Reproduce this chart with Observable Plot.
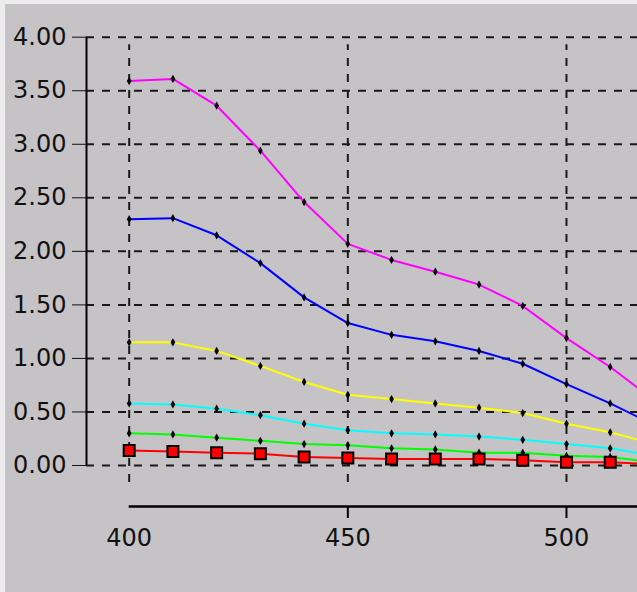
<!DOCTYPE html>
<html>
<head>
<meta charset="utf-8">
<script src="https://cdn.jsdelivr.net/npm/d3@7"></script>
<script src="https://cdn.jsdelivr.net/npm/@observablehq/plot@0.6"></script>
<style>
  html, body { margin: 0; padding: 0; background: #ececec; overflow: hidden; }
  #wrap { position: relative; width: 637px; height: 592px; }
  #panel { position: absolute; left: 5px; top: 4px; width: 632px; height: 588px; background: #c6c3c7; }
  #chart { position: absolute; left: 0; top: 0; }
</style>
</head>
<body>
<div id="wrap"><div id="panel"></div><div id="chart"></div></div>
<script>
// Data (wavelength vs value)
const wavelengths = [400, 410, 420, 430, 440, 450, 460, 470, 480, 490, 500, 510, 520];
const magenta = [3.59, 3.61, 3.36, 2.94, 2.46, 2.07, 1.92, 1.81, 1.69, 1.49, 1.19, 0.92, 0.61];
const blue    = [2.30, 2.31, 2.15, 1.89, 1.57, 1.33, 1.22, 1.16, 1.07, 0.95, 0.76, 0.58, 0.38];
const yellow  = [1.15, 1.15, 1.07, 0.93, 0.78, 0.66, 0.62, 0.58, 0.54, 0.49, 0.39, 0.31, 0.20];
const cyan    = [0.58, 0.57, 0.53, 0.47, 0.39, 0.33, 0.30, 0.29, 0.27, 0.24, 0.20, 0.16, 0.09];
const green   = [0.30, 0.29, 0.26, 0.23, 0.20, 0.19, 0.16, 0.15, 0.12, 0.12, 0.09, 0.08, 0.03];
const red     = [0.14, 0.13, 0.12, 0.11, 0.08, 0.07, 0.06, 0.06, 0.06, 0.05, 0.03, 0.03, 0.01];

const yTicks = [0, 0.5, 1, 1.5, 2, 2.5, 3, 3.5, 4];
const xTicks = [400, 450, 500];
const xTickMarks = [450, 500];

const seriesList = [
  {name: "magenta", values: magenta, color: "#ff00ff"},
  {name: "blue", values: blue, color: "#0000ff"},
  {name: "yellow", values: yellow, color: "#ffff00"},
  {name: "cyan", values: cyan, color: "#00ffff"},
  {name: "green", values: green, color: "#00ff00"},
  {name: "red", values: red, color: "#ff0000"}
];

const rows = seriesList.flatMap(s => wavelengths.map((w, i) => ({series: s.name, x: w, y: s.values[i], color: s.color})));
const redRows = rows.filter(d => d.series === "red");
const otherRows = rows.filter(d => d.series !== "red");

const W = 637, H = 592;
const mL = 86, mR = 0, mT = 36.7, mB = 86;
const xMin = 390.24, xMax = 516.24;
const yMin = -0.383, yMax = 4;
const pxPerY = (H - mT - mB) / (yMax - yMin);

const grid = {stroke: "#1a1a1a", strokeWidth: 2, strokeDasharray: "8,8"};

const chart = Plot.plot({
  width: W,
  height: H,
  marginLeft: mL,
  marginRight: mR,
  marginTop: mT,
  marginBottom: mB,
  style: {background: "transparent", fontFamily: "DejaVu Sans, sans-serif", fontSize: "24px", color: "#111", overflow: "hidden"},
  x: {domain: [xMin, xMax], ticks: xTicks, tickSize: 0, tickPadding: 22, tickFormat: d => String(d), label: null},
  y: {domain: [yMin, yMax], ticks: yTicks, tickSize: 14, tickPadding: 6, tickFormat: d => d.toFixed(2), label: null},
  marks: [
    // grid
    Plot.ruleY(yTicks, {x1: xMin, x2: xMax, ...grid}),
    Plot.ruleX(xTicks, {y1: -0.16, y2: 3.93, ...grid}),
    // axes lines
    Plot.ruleX([xMin], {y1: 0, y2: yMax, stroke: "#000", strokeWidth: 2}),
    Plot.ruleY([yMin], {x1: 400, x2: xMax, stroke: "#000", strokeWidth: 2.5}),
    Plot.ruleX(xTickMarks, {y1: yMin, y2: yMin - 12 / pxPerY, stroke: "#000", strokeWidth: 2}),
    // series lines
    ...seriesList.map(s => Plot.line(rows.filter(d => d.series === s.name), {x: "x", y: "y", stroke: s.color, strokeWidth: 2, curve: "linear", clip: true})),
    // small markers
    Plot.dot(otherRows, {x: "x", y: "y", r: 2.5, symbol: "diamond", fill: "#000", stroke: "none", clip: true}),
    // red square markers
    Plot.dot(redRows, {x: "x", y: "y", r: 6.2, symbol: "square", fill: "#ff0000", stroke: "#000", strokeWidth: 2, clip: true})
  ]
});
document.getElementById("chart").appendChild(chart);
</script>
</body>
</html>
